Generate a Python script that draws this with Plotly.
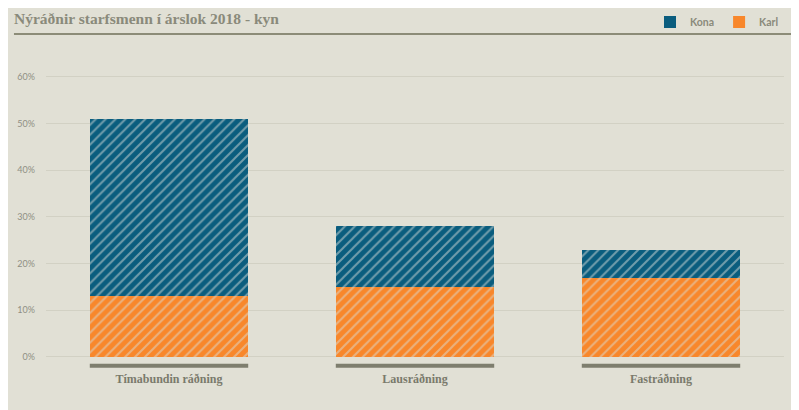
import plotly.graph_objects as go

# Nýráðnir starfsmenn í árslok 2018 eftir kyni (%)
categories = ["Tímabundin ráðning", "Lausráðning", "Fastráðning"]
karl = [13, 15, 17]
kona = [38, 13, 6]
yticks = [0, 10, 20, 30, 40, 50, 60]
ytick_labels = ["0%", "10%", "20%", "30%", "40%", "50%", "60%"]

BG = "#e1e0d5"
BLUE = "#0a5d7e"
ORANGE = "#f8872b"
GRAY = "#8a8a7b"
HATCH = "#d8ddd8"

fig = go.Figure()

fig.add_trace(go.Bar(
    x=categories, y=karl, name="Karl", showlegend=False,
    marker=dict(color=ORANGE, line=dict(width=0),
                pattern=dict(shape="/", bgcolor=ORANGE, fgcolor=HATCH,
                             size=7, solidity=0.28)),
))
fig.add_trace(go.Bar(
    x=categories, y=kona, name="Kona", showlegend=False,
    marker=dict(color=BLUE, line=dict(width=0),
                pattern=dict(shape="/", bgcolor=BLUE, fgcolor=HATCH,
                             size=7, solidity=0.28)),
))

# legend entries (solid squares)
for name, col in [("Kona", BLUE), ("Karl", ORANGE)]:
    fig.add_trace(go.Scatter(
        x=[None], y=[None], mode="markers", name=name,
        marker=dict(symbol="square", size=12, color=col),
    ))

# gray baseline bar under each category
for i in range(len(categories)):
    fig.add_shape(type="rect", xref="x", yref="y",
                  x0=i - 0.322, x1=i + 0.322, y0=-1.45, y1=-2.3,
                  fillcolor="#7e7e6e", line_width=0, layer="above")

# line under title
fig.add_shape(type="line", xref="paper", yref="paper",
              x0=-0.0434, x1=1.0122, y0=1.0839, y1=1.0839,
              line=dict(color="#8c8c78", width=2))

fig.update_layout(
    width=799, height=410,
    margin=dict(l=38, r=23, t=52, b=48, autoexpand=False),
    paper_bgcolor=BG, plot_bgcolor=BG,
    barmode="stack", bargap=0.357,
    title=dict(text="<b>Nýráðnir starfsmenn í árslok 2018 - kyn</b>",
               x=6 / 799, xanchor="left", y=1 - 11 / 410, yanchor="middle",
               font=dict(family="Liberation Serif", size=15.5, color=GRAY)),
    legend=dict(orientation="h", x=1.0, xanchor="right",
                y=1.1226, yanchor="middle", traceorder="normal",
                font=dict(family="Lato", size=10.5, color=GRAY, weight="bold"),
                itemwidth=30, tracegroupgap=0, bgcolor="rgba(0,0,0,0)"),
    xaxis=dict(showgrid=False, showline=False, zeroline=False, ticks="",
               tickfont=dict(family="Liberation Serif", size=12, color="#7a7a6c",
                             weight="bold")),
    yaxis=dict(range=[-2.79, 63.64], tickvals=yticks, ticktext=ytick_labels,
               showgrid=True, gridcolor="#d2d1c4", gridwidth=1,
               zeroline=False, showline=False, ticks="", ticklabelstandoff=10,
               tickfont=dict(family="Lato", size=9, color="#8f8f84")),
    font=dict(family="Lato"),
)

fig.write_html("out.html")
